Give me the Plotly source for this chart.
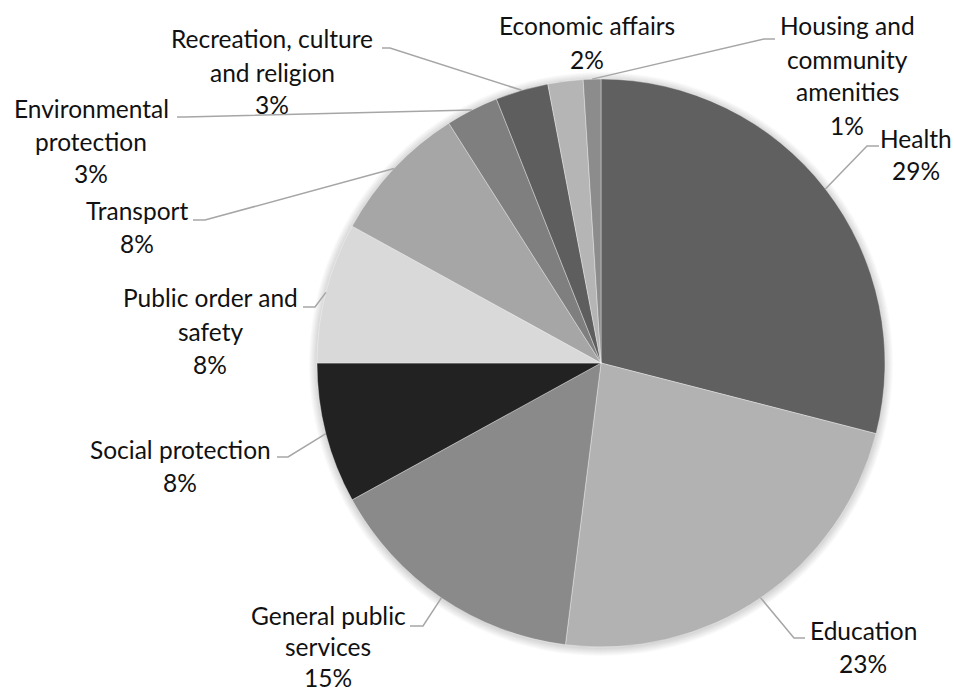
import math
import plotly.graph_objects as go

# Spending by function, share of total (%)
categories = [
    "Health", "Education", "General public services", "Social protection",
    "Public order and safety", "Transport", "Environmental protection",
    "Recreation, culture and religion", "Economic affairs",
    "Housing and community amenities",
]
shares = [29, 23, 15, 8, 8, 8, 3, 3, 2, 1]
slice_colors = [
    "#606060", "#b2b2b2", "#8a8a8a", "#222222", "#d9d9d9",
    "#a6a6a6", "#7f7f7f", "#5e5e5e", "#b5b5b5", "#8c8c8c",
]

# Label text broken into lines
label_lines = [
    ["Health"], ["Education"], ["General public", "services"],
    ["Social protection"], ["Public order and", "safety"], ["Transport"],
    ["Environmental", "protection"], ["Recreation, culture", "and religion"],
    ["Economic affairs"], ["Housing and", "community", "amenities"],
]

# Layout (pixels): figure size, pie centre and radius
W, H = 954, 693
CX, CY, R = 601, 363, 284
FONT = dict(family="Lato, 'Open Sans', sans-serif", size=24.5, color="#111111")

# Label block placement: centre x, centre y of first line, line step
label_pos = [
    (916, 138), (863, 630), (328, 615), (180, 449), (210, 298),
    (137, 211), (91, 108), (272, 39), (587, 26), (847, 26),
]
line_step = [33, 33, 31, 33, 33, 33, 33, 33, 33, 33]
# Leader line elbow and end points (None: no leader)
leader_elbow = [
    (867, 146), (794, 638), (423, 626), (288, 457), (315, 307),
    (205, 220), (185, 117), (390, 48), None, (764, 39),
]
leader_end = [
    (879, 146), (805, 638), (410, 626), (277, 457), (303, 307),
    (193, 220), (177, 117), (382, 48), None, (775, 39),
]


def px(x):
    return x / W


def py(y):
    return 1 - y / H


fig = go.Figure()
fig.add_trace(go.Pie(
    labels=categories,
    values=shares,
    sort=False,
    direction="clockwise",
    rotation=0,
    marker=dict(colors=slice_colors,
                line=dict(color="rgba(255,255,255,0.45)", width=0.8)),
    textinfo="none",
    hoverinfo="label+percent",
    showlegend=False,
    domain=dict(x=[px(CX - R), px(CX + R)], y=[py(CY + R), py(CY - R)]),
))

shapes = []
# soft shadow around the pie
for k in range(8):
    rr = R + 1 + k
    shapes.append(dict(
        type="circle", xref="paper", yref="paper", layer="below",
        x0=px(CX - rr), x1=px(CX + rr), y0=py(CY + rr + 1), y1=py(CY - rr + 1),
        fillcolor="rgba(0,0,0,0.02)", line=dict(width=0),
    ))

total = sum(shares)
annotations = []
cum = 0.0
for i, v in enumerate(shares):
    mid = (cum + v / 2) / total * 2 * math.pi
    cum += v
    pct = round(v / total * 100)
    lines = label_lines[i] + [f"{pct}%"]
    lx, ly = label_pos[i]
    for j, t in enumerate(lines):
        annotations.append(dict(
            x=px(lx), y=py(ly + j * line_step[i]), xref="paper", yref="paper",
            text=t, showarrow=False, xanchor="center", yanchor="middle",
            font=FONT,
        ))
    if leader_elbow[i] is not None:
        sx = CX + R * math.sin(mid)
        sy = CY - R * math.cos(mid)
        ex, ey = leader_elbow[i]
        tx, ty = leader_end[i]
        shapes.append(dict(
            type="path", xref="paper", yref="paper", layer="above",
            path=f"M {px(sx)} {py(sy)} L {px(ex)} {py(ey)} L {px(tx)} {py(ty)}",
            line=dict(color="#a6a6a6", width=1.5),
        ))

fig.update_layout(
    width=W, height=H,
    margin=dict(l=0, r=0, t=0, b=0),
    paper_bgcolor="white", plot_bgcolor="white",
    shapes=shapes, annotations=annotations,
)

fig.write_html("out.html")
